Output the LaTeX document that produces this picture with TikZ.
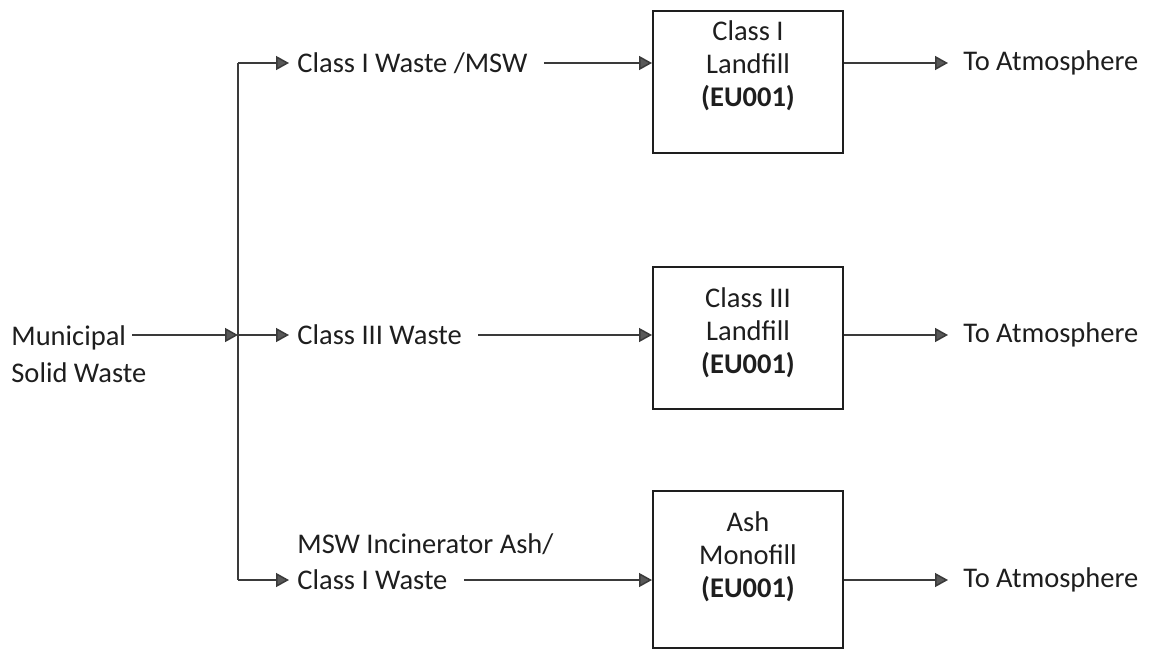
\documentclass[tikz,border=0pt]{standalone}
\usepackage{fontspec}
\setmainfont{Carlito}
\usetikzlibrary{arrows.meta}
\definecolor{flowgray}{HTML}{3A3A3A}
\definecolor{inkblack}{HTML}{1E1E1E}
\tikzset{
  flow/.style={-{Triangle[length=6.5pt,width=7pt,fill=flowgray!85]}, draw=flowgray, line width=0.75pt},
  wastelabel/.style={anchor=west, inner xsep=4pt, inner ysep=0pt, text=inkblack},
  atmlabel/.style={anchor=west, inner xsep=7.5pt, inner ysep=0pt, text=inkblack},
  landfill/.style={draw=inkblack, line width=1pt, text width=95pt, align=flush center, inner sep=0pt,
    anchor=north, text=inkblack, font=\fontsize{14.25}{16.5}\selectfont},
}

\begin{document}
\begin{tikzpicture}[x=0.5pt,y=-0.5pt,font=\fontsize{14.25}{17}\selectfont]
  \useasboundingbox (0,0) rectangle (1150,649);
  % source and splitter
  \node [anchor=north west, align=left, inner sep=0pt, text=inkblack,
    font=\fontsize{14.25}{18.5}\selectfont] (msw) at (11,325) {Municipal\\Solid Waste};
  \coordinate (mswout) at (132,335);
  \coordinate (jtop) at (238,63);
  \coordinate (jmid) at (238,335);
  \coordinate (jbot) at (238,580);
  \draw [draw=flowgray, line width=0.75pt] (jtop) -- (jbot);
  \draw [flow] (mswout) -- (jmid);
  % waste streams
  \node [wastelabel] (cls1) at (289,63) {Class I Waste /MSW};
  \node [wastelabel] (cls3) at (289,335) {Class III Waste};
  \node [wastelabel] (ash) at (289,580) {Class I Waste};
  \node [wastelabel, anchor=base west] (ashtop) at (289,553) {MSW Incinerator Ash/};
  % landfills
  \node [landfill, text height=14.5pt, text depth=56.5pt] (lf1) at (748,10) {Class I\\Landfill\\\textbf{(EU001)}};
  \node [landfill, text height=20pt, text depth=51pt] (lf3) at (748,266) {Class III\\Landfill\\\textbf{(EU001)}};
  \node [landfill, text height=20pt, text depth=58.5pt] (mono) at (748,490) {Ash\\Monofill\\\textbf{(EU001)}};
  % outlets
  \node [atmlabel] (atm1) at (948,63) {To Atmosphere};
  \node [atmlabel] (atm2) at (948,335) {To Atmosphere};
  \node [atmlabel] (atm3) at (948,580) {To Atmosphere};
  \draw [flow] (jtop) -- (cls1.west);
  \draw [flow] (jmid) -- (cls3.west);
  \draw [flow] (jbot) -- (ash.west);
  \draw [flow] ([xshift=4pt]cls1.east) -- (cls1.east -| lf1.west);
  \draw [flow] ([xshift=4pt]cls3.east) -- (cls3.east -| lf3.west);
  \draw [flow] ([xshift=4pt]ash.east) -- (ash.east -| mono.west);
  \draw [flow] (lf1.east |- atm1.west) -- (atm1.west);
  \draw [flow] (lf3.east |- atm2.west) -- (atm2.west);
  \draw [flow] (mono.east |- atm3.west) -- (atm3.west);
\end{tikzpicture}
\end{document}
